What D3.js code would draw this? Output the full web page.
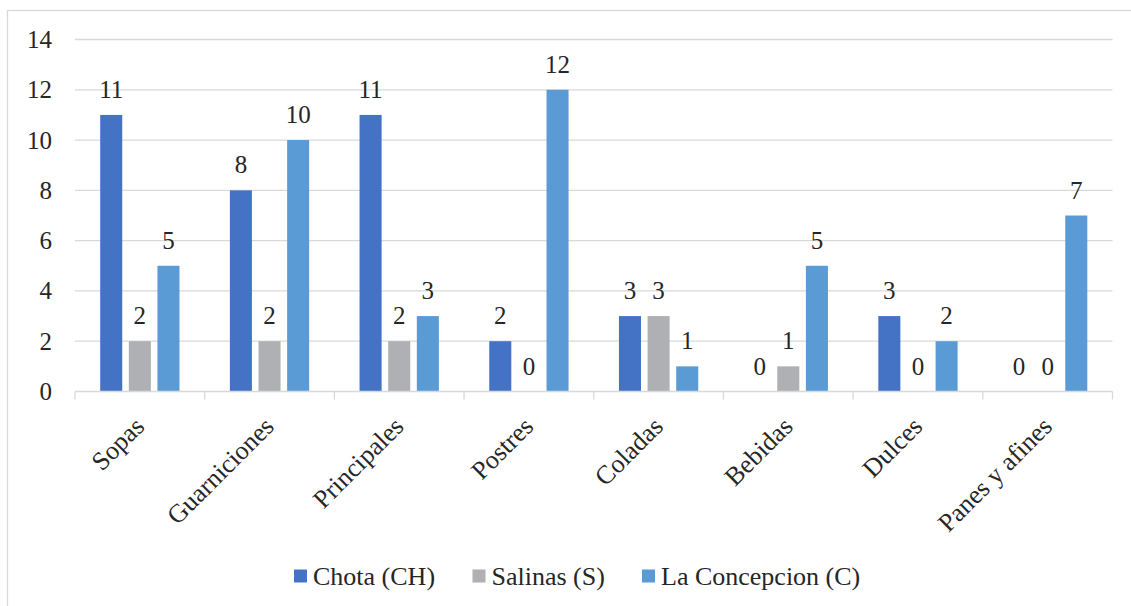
<!DOCTYPE html>
<html>
<head>
<meta charset="utf-8">
<script src="https://cdn.jsdelivr.net/npm/d3@7"></script>
<style>
  html, body { margin: 0; padding: 0; background: #fff; }
  svg { display: block; }
  svg text { font-family: "Liberation Serif", "Times New Roman", serif; }
</style>
</head>
<body>
<svg id="chart" width="1131" height="606"></svg>
<script>
// Dish categories and counts per locality
const categories = ["Sopas", "Guarniciones", "Principales", "Postres", "Coladas", "Bebidas", "Dulces", "Panes y afines"];
const seriesNames = ["Chota (CH)", "Salinas (S)", "La Concepcion (C)"];
const chota = [11, 8, 11, 2, 3, 0, 3, 0];
const salinas = [2, 2, 2, 0, 3, 1, 0, 0];
const concepcion = [5, 10, 3, 12, 1, 5, 2, 7];
const yTicks = [0, 2, 4, 6, 8, 10, 12, 14];

const seriesValues = [chota, salinas, concepcion];
const colors = ["#4472C4", "#AFB0B3", "#5B9BD5"];
const textColor = "#262626";
const gridColor = "#D9D9D9";
const numberSize = 25;
const labelSize = 26;
const serif = "'Liberation Serif', 'Times New Roman', serif";

const svg = d3.select("#chart");

// Outer chart frame
svg.append("rect")
  .attr("x", 7.5).attr("y", 10.5)
  .attr("width", 1200).attr("height", 700)
  .attr("fill", "none").attr("stroke", gridColor).attr("stroke-width", 1.3);

const plot = { left: 75, right: 1112.5, top: 39.5, bottom: 391.5 };

const x0 = d3.scaleBand().domain(categories).range([plot.left, plot.right]).padding(0);
const x1 = d3.scaleBand().domain(d3.range(seriesNames.length))
  .range([0, x0.bandwidth()]).paddingInner(0.23).paddingOuter(0.88);
const y = d3.scaleLinear().domain([0, 14]).range([plot.bottom, plot.top]);

// Horizontal gridlines
svg.append("g").selectAll("line").data(yTicks.filter(t => t > 0)).join("line")
  .attr("x1", plot.left).attr("x2", plot.right)
  .attr("y1", d => y(d)).attr("y2", d => y(d))
  .attr("stroke", gridColor).attr("stroke-width", 1.3);

// Y axis labels
const yAxis = svg.append("g").attr("transform", `translate(${plot.left},0)`)
  .call(d3.axisLeft(y).tickValues(yTicks).tickSize(0).tickPadding(23));
yAxis.attr("font-family", serif);
yAxis.select(".domain").remove();
yAxis.selectAll("text")
  .attr("font-size", numberSize).attr("fill", textColor)
  .style("font-family", serif);

// Bars
const groups = svg.append("g").selectAll("g").data(categories).join("g")
  .attr("transform", d => `translate(${x0(d)},0)`);

groups.selectAll("rect")
  .data((c, i) => seriesValues.map((vals, s) => ({ s, v: vals[i] })))
  .join("rect")
  .attr("x", d => x1(d.s))
  .attr("width", x1.bandwidth())
  .attr("y", d => y(d.v))
  .attr("height", d => y(0) - y(d.v))
  .attr("fill", d => colors[d.s]);

// Value labels above bars
groups.selectAll("text")
  .data((c, i) => seriesValues.map((vals, s) => ({ s, v: vals[i] })))
  .join("text")
  .attr("x", d => x1(d.s) + x1.bandwidth() / 2)
  .attr("y", d => y(d.v) - 17)
  .attr("text-anchor", "middle")
  .attr("font-size", numberSize).attr("fill", textColor)
  .style("font-family", serif)
  .text(d => d.v);

// X axis baseline and category boundary ticks
const xAxisG = svg.append("g");
xAxisG.append("line")
  .attr("x1", plot.left).attr("x2", plot.right)
  .attr("y1", plot.bottom).attr("y2", plot.bottom)
  .attr("stroke", gridColor).attr("stroke-width", 1.3);
const boundaries = categories.map(c => x0(c)).concat([plot.right]);
xAxisG.selectAll("line.tick").data(boundaries).join("line")
  .attr("class", "tick")
  .attr("x1", d => d).attr("x2", d => d)
  .attr("y1", plot.bottom).attr("y2", plot.bottom + 8)
  .attr("stroke", gridColor).attr("stroke-width", 1.3);

// Rotated category labels
xAxisG.selectAll("text").data(categories).join("text")
  .attr("transform", d => `translate(${x0(d) + x0.bandwidth() / 2 + 6},428) rotate(-45)`)
  .attr("text-anchor", "end")
  .attr("font-size", labelSize).attr("fill", textColor)
  .style("font-family", serif)
  .text(d => d);

// Legend
const legendX = [294, 472.5, 642];
const legend = svg.append("g").selectAll("g").data(seriesNames).join("g")
  .attr("transform", (d, i) => `translate(${legendX[i]},0)`);
legend.append("rect")
  .attr("x", 0).attr("y", 569.5).attr("width", 13).attr("height", 13)
  .attr("fill", (d, i) => colors[i]);
legend.append("text")
  .attr("x", 19).attr("y", 585)
  .attr("font-size", labelSize).attr("fill", textColor)
  .style("font-family", serif)
  .text(d => d);
</script>
</body>
</html>
